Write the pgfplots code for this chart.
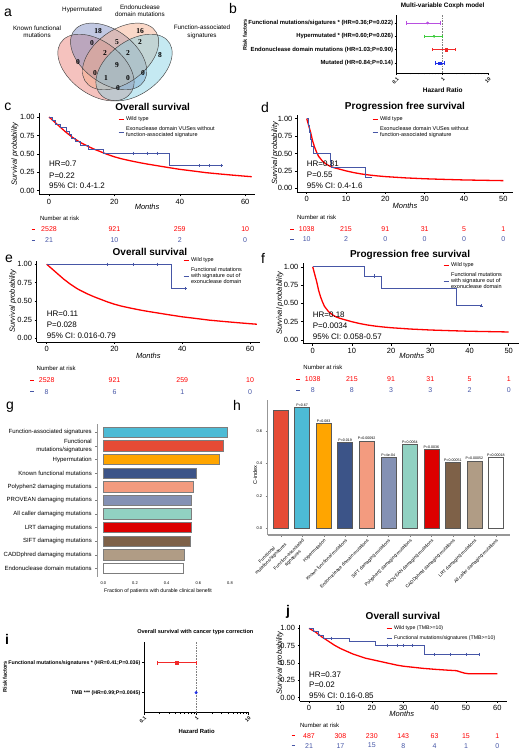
\documentclass[border=0pt]{standalone}
\usepackage{fontspec}
\setmainfont{Liberation Sans}
\newfontfamily\vennfont{Liberation Serif}
\usepackage{pgfplots}
\pgfplotsset{compat=1.18}
\newcommand\fs[1]{\fontsize{#1}{\fpeval{1.18*#1}}\selectfont}
\definecolor{kmred}{RGB}{255,0,0}
\definecolor{kmblue}{RGB}{70,86,166}
\definecolor{npgred}{HTML}{E64B35}
\definecolor{npgcyan}{HTML}{4DBBD5}
\definecolor{npgorange}{HTML}{FFA500}
\definecolor{npgnavy}{HTML}{3C5488}
\definecolor{npgsalmon}{HTML}{F39B7F}
\definecolor{npglav}{HTML}{8491B4}
\definecolor{npgmint}{HTML}{91D1C2}
\definecolor{npgred2}{HTML}{DC0000}
\definecolor{npgbrown}{HTML}{7E6148}
\definecolor{npgtan}{HTML}{B09C85}
\definecolor{barline}{RGB}{125,125,125}
\definecolor{fpurple}{HTML}{B84FE0}
\definecolor{fgreen}{HTML}{3DCB3D}
\definecolor{fred}{HTML}{F22A2A}
\definecolor{fblue}{HTML}{1F2FE8}
\definecolor{vred}{HTML}{E8776E}
\definecolor{vblue}{HTML}{7586BE}
\definecolor{vpeach}{HTML}{F4A985}
\definecolor{vcyan}{HTML}{7ECFE2}
\pgfplotsset{
  /pgf/number format/assume math mode=true,
  every axis title shift=0pt,
  km/.style={
    scale only axis, axis lines*=left, tick align=outside,
    major tick length=2pt, axis line style={line width=0.5pt},
    every tick/.style={black, line width=0.5pt},
    ymin=-0.05, ymax=1.05, ytick={0,0.25,0.5,0.75,1},
    yticklabels={0.00,0.25,0.50,0.75,1.00},
    tick label style={font=\fs{7.5}},
    xticklabel style={yshift=1pt}, yticklabel style={xshift=1pt},
    xlabel={Months}, ylabel={Survival probability},
    xlabel style={font=\fs{7.5}\itshape, anchor=center},
    ylabel style={font=\fs{7.5}\itshape, anchor=center},
    title style={font=\bfseries\fs{10}, anchor=center, yshift=0pt},
    clip=false,
    legend style={draw=none, fill=none, font=\fs{5.5}, inner sep=0pt, anchor=north west,
      cells={anchor=west, align=left}, row sep=0.3pt},
    legend image code/.code={\draw[##1, line width=0.9pt] (0pt,0pt) -- (5pt,0pt);},
  },
  forest/.style={
    scale only axis, xmin=0.1, xmax=10, axis lines*=left,
    axis line style={line width=0.9pt},
    xtick={0.1,1,10}, xticklabels={0.1,1,10},
    minor xtick={0.2,0.3,0.4,0.5,0.6,0.7,0.8,0.9,2,3,4,5,6,7,8,9},
    xticklabel style={rotate=45, anchor=north east, font=\bfseries\fs{5}, inner sep=1pt},
    yticklabel style={font=\bfseries\fs{5.9}, inner sep=1.5pt},
    tick align=outside, major tick length=2pt, minor tick length=1.3pt,
    every tick/.style={black, line width=0.6pt},
    title style={font=\bfseries\fs{6.4}, anchor=center, yshift=0pt},
    xlabel style={font=\bfseries\fs{6.5}, anchor=center},
    ylabel style={font=\bfseries\fs{5.5}, anchor=center},
    clip=false,
  },
}
\begin{document}
\begin{tikzpicture}
\path[use as bounding box] (0pt,0pt) rectangle (521pt,-750pt);

% ---------------- panel letters
\node[font=\fs{14}] at (8pt,-13pt) {a};
\node[font=\fs{14}] at (233pt,-8pt) {b};
\node[font=\fs{14}] at (8pt,-107pt) {c};
\node[font=\fs{14}] at (265pt,-107pt) {d};
\node[font=\fs{14}] at (9pt,-259pt) {e};
\node[font=\fs{14}] at (263pt,-258pt) {f};
\node[font=\fs{14}] at (10pt,-407pt) {g};
\node[font=\fs{14}] at (237pt,-405pt) {h};
\node[font=\bfseries\fs{14}] at (7pt,-639pt) {i};
\node[font=\bfseries\fs{14}] at (288pt,-612pt) {j};

% ---------------- panel a : Venn
\begin{scope}
\pgfsetfillopacity{0.45}
\pgfsetfillcolor{vred}
\pgfpathellipse{\pgfpoint{95.95pt}{-67.55pt}}{\pgfpoint{32.33pt}{-28.26pt}}{\pgfpoint{20.21pt}{17.66pt}}\pgfusepath{fill}
\pgfsetfillcolor{vblue}
\pgfpathellipse{\pgfpoint{108.65pt}{-56.45pt}}{\pgfpoint{32.33pt}{-28.26pt}}{\pgfpoint{20.21pt}{17.66pt}}\pgfusepath{fill}
\pgfsetfillcolor{vpeach}
\pgfpathellipse{\pgfpoint{120.59pt}{-56.45pt}}{\pgfpoint{32.33pt}{28.26pt}}{\pgfpoint{-20.21pt}{17.66pt}}\pgfusepath{fill}
\pgfsetfillcolor{vcyan}
\pgfpathellipse{\pgfpoint{134.05pt}{-67.55pt}}{\pgfpoint{32.33pt}{28.26pt}}{\pgfpoint{-20.21pt}{17.66pt}}\pgfusepath{fill}
\end{scope}
\begin{scope}
\pgfsetlinewidth{0.45pt}\pgfsetstrokecolor{black!75}
\pgfpathellipse{\pgfpoint{95.95pt}{-67.55pt}}{\pgfpoint{32.33pt}{-28.26pt}}{\pgfpoint{20.21pt}{17.66pt}}\pgfusepath{stroke}
\pgfpathellipse{\pgfpoint{108.65pt}{-56.45pt}}{\pgfpoint{32.33pt}{-28.26pt}}{\pgfpoint{20.21pt}{17.66pt}}\pgfusepath{stroke}
\pgfpathellipse{\pgfpoint{120.59pt}{-56.45pt}}{\pgfpoint{32.33pt}{28.26pt}}{\pgfpoint{-20.21pt}{17.66pt}}\pgfusepath{stroke}
\pgfpathellipse{\pgfpoint{134.05pt}{-67.55pt}}{\pgfpoint{32.33pt}{28.26pt}}{\pgfpoint{-20.21pt}{17.66pt}}\pgfusepath{stroke}
\end{scope}
\begin{scope}[every node/.style={font=\vennfont\bfseries\fs{7.5}, inner sep=0pt}]
\node at (98pt,-31pt) {18};
\node at (140pt,-31pt) {16};
\node at (78pt,-62pt) {0};
\node at (160pt,-55pt) {8};
\node at (92pt,-43pt) {0};
\node at (117pt,-42pt) {5};
\node at (140pt,-42pt) {2};
\node at (105pt,-53pt) {2};
\node at (128pt,-53pt) {2};
\node at (117pt,-65pt) {9};
\node at (95pt,-73pt) {0};
\node at (106pt,-78pt) {1};
\node at (128pt,-78pt) {0};
\node at (143pt,-73pt) {0};
\node at (118pt,-88pt) {0};
\end{scope}
\begin{scope}[every node/.style={font=\fs{6.3}, align=center, inner sep=0pt}]
\node at (82pt,-10pt) {Hypermutated};
\node at (140pt,-11pt) {Endonuclease\\domain mutations};
\node at (37pt,-32pt) {Known functional\\mutations};
\node at (202pt,-32pt) {Function-associated\\signatures};
\end{scope}

% ---------------- panel b : forest
\begin{axis}[xmode=log, forest, at={(396.7pt,-73pt)}, anchor=south west, width=92pt, height=58pt,
  ymin=0.25, ymax=4.6, ytick={1,2,3,4},
  yticklabels={{Mutated (HR=0.84;P=0.14)},{Endonuclease domain mutations (HR=1.03;P=0.90)},{Hypermutated * (HR=0.60;P=0.026)},{Functional mutations/sigatures * (HR=0.36;P=0.022)}},
  title={Multi-variable Coxph model}, title style={at={(axis description cs:0.5,1.165)}},
  xlabel={Hazard Ratio}, xlabel style={at={(axis description cs:0.5,-0.293)}},
  ylabel={Risk factors}, ylabel style={at={(axis description cs:-1.649,0.655)}}]
\addplot[gray, densely dotted, line width=0.6pt] coordinates {(1,0.25) (1,4.6)};
\addplot[fpurple, mark=|, mark size=1.6pt, line width=0.7pt] coordinates {(0.165,4) (0.87,4)};
\addplot[fpurple, only marks, mark=*, mark size=1.2pt] coordinates {(0.47,4)};
\addplot[fgreen, mark=|, mark size=1.6pt, line width=0.7pt] coordinates {(0.40,3) (0.98,3)};
\addplot[fgreen, only marks, mark=*, mark size=1.2pt] coordinates {(0.65,3)};
\addplot[fred, mark=|, mark size=1.6pt, line width=0.7pt] coordinates {(0.61,2) (1.85,2)};
\addplot[fred, only marks, mark=square*, mark size=1.3pt] coordinates {(1.18,2)};
\addplot[fblue, mark=|, mark size=1.6pt, line width=0.7pt] coordinates {(0.70,1) (1.07,1)};
\addplot[fblue, only marks, mark=square*, mark size=1.3pt] coordinates {(0.87,1)};
\end{axis}

% ---------------- panel c : OS, VUS
\begin{axis}[km, at={(39.2pt,-194.4pt)}, anchor=south west, width=215.8pt, height=81.1pt,
  xmin=-3, xmax=63, xtick={0,20,40,60},
  title={Overall survival}, title style={at={(axis description cs:0.526,1.081)}},
  xlabel style={at={(axis description cs:0.5,-0.155)}},
  ylabel style={at={(axis description cs:-0.112,0.5)}},
  legend style={at={(axis description cs:0.365,0.99)}}]
\addplot[kmred, line width=1.3pt] coordinates {(0,1) (1,0.96) (2,0.92) (3,0.88) (4,0.84) (5,0.80) (6,0.765) (7,0.73) (8,0.70) (9,0.67) (10,0.645) (12,0.60) (14,0.56) (16,0.525) (18,0.49) (20,0.46) (22,0.435) (25,0.405) (28,0.378) (30,0.362) (33,0.34) (36,0.318) (40,0.29) (44,0.268) (48,0.245) (52,0.228) (56,0.212) (60,0.197) (62,0.19)};
\addlegendentry{Wild type}
\addplot[kmblue, line width=0.8pt, const plot] coordinates {(0,1) (1,0.952) (2,0.905) (3.5,0.857) (5.2,0.81) (6.3,0.762) (7,0.714) (8,0.667) (9.5,0.619) (12,0.56) (16.6,0.51) (36.8,0.34) (52.8,0.34)};
\addlegendentry{Exonuclease domain VUSes without\\function-associated signature}
\addplot[kmblue, only marks, mark=+, mark size=1.6pt, forget plot] coordinates {(25.8,0.51) (30,0.51) (33,0.51) (46,0.34) (49,0.34) (52.8,0.34)};
\node[anchor=west, font=\fs{8}, inner sep=0pt] at (axis cs:0,0.362) {HR=0.7};
\node[anchor=west, font=\fs{8}, inner sep=0pt] at (axis cs:0,0.204) {P=0.22};
\node[anchor=west, font=\fs{8}, inner sep=0pt] at (axis cs:0,0.064) {95\% CI: 0.4-1.2};
\node[anchor=west, font=\fs{6}, inner sep=0pt] at (axis cs:-2.8,-0.37) {Number at risk};
\node[inner sep=0pt] at (axis cs:-4.8,-0.52) {\textcolor{kmred}{\rule{3.5pt}{1pt}}};
\node[inner sep=0pt] at (axis cs:-4.8,-0.67) {\textcolor{kmblue}{\rule{3.5pt}{1pt}}};
\begin{scope}[every node/.style={font=\fs{7}, inner sep=0pt, text=kmred}]
\node at (axis cs:0,-0.52) {2528}; \node at (axis cs:20,-0.52) {921};
\node at (axis cs:40,-0.52) {259}; \node at (axis cs:60,-0.52) {10};
\end{scope}
\begin{scope}[every node/.style={font=\fs{7}, inner sep=0pt, text=kmblue}]
\node at (axis cs:0,-0.67) {21}; \node at (axis cs:20,-0.67) {10};
\node at (axis cs:40,-0.67) {2}; \node at (axis cs:60,-0.67) {0};
\end{scope}
\end{axis}

% ---------------- panel d : PFS, VUS
\begin{axis}[km, at={(296.9pt,-191.8pt)}, anchor=south west, width=216.2pt, height=76.7pt,
  xmin=-2.5, xmax=52.5, xtick={0,10,20,30,40,50},
  title={Progression free survival}, title style={at={(axis description cs:0.5,1.11)}},
  xlabel style={at={(axis description cs:0.5,-0.185)}},
  ylabel style={at={(axis description cs:-0.101,0.5)}},
  legend style={at={(axis description cs:0.347,1.008)}}]
\addplot[kmred, line width=1.3pt] coordinates {(0,1) (0.5,0.9) (1,0.8) (1.5,0.68) (2,0.59) (2.5,0.52) (3,0.46) (4,0.39) (5,0.345) (6,0.315) (7,0.295) (8,0.28) (10,0.25) (12,0.225) (14,0.205) (16,0.19) (18,0.178) (20,0.168) (25,0.15) (30,0.137) (35,0.128) (40,0.12) (45,0.115) (50,0.11)};
\addlegendentry{Wild type}
\addplot[kmblue, line width=0.8pt, const plot] coordinates {(0,1) (0.5,0.9) (0.8,0.8) (1.0,0.7) (1.3,0.6) (1.7,0.5) (5.9,0.4) (6.3,0.3) (14.8,0.15) (16.5,0.15)};
\addlegendentry{Exonuclease domain VUSes without\\function-associated signature}
\node[anchor=west, font=\fs{8}, inner sep=0pt] at (axis cs:0,0.359) {HR=0.81};
\node[anchor=west, font=\fs{8}, inner sep=0pt] at (axis cs:0,0.2) {P=0.55};
\node[anchor=west, font=\fs{8}, inner sep=0pt] at (axis cs:0,0.04) {95\% CI: 0.4-1.6};
\node[anchor=west, font=\fs{6}, inner sep=0pt] at (axis cs:-2.5,-0.416) {Number at risk};
\node[inner sep=0pt] at (axis cs:-3.8,-0.584) {\textcolor{kmred}{\rule{3.5pt}{1pt}}};
\node[inner sep=0pt] at (axis cs:-3.8,-0.73) {\textcolor{kmblue}{\rule{3.5pt}{1pt}}};
\begin{scope}[every node/.style={font=\fs{7}, inner sep=0pt, text=kmred}]
\node at (axis cs:0,-0.584) {1038}; \node at (axis cs:10,-0.584) {215};
\node at (axis cs:20,-0.584) {91}; \node at (axis cs:30,-0.584) {31};
\node at (axis cs:40,-0.584) {5}; \node at (axis cs:50,-0.584) {1};
\end{scope}
\begin{scope}[every node/.style={font=\fs{7}, inner sep=0pt, text=kmblue}]
\node at (axis cs:0,-0.73) {10}; \node at (axis cs:10,-0.73) {2};
\node at (axis cs:20,-0.73) {0}; \node at (axis cs:30,-0.73) {0};
\node at (axis cs:40,-0.73) {0}; \node at (axis cs:50,-0.73) {0};
\end{scope}
\end{axis}

% ---------------- panel e : OS, functional out of exo
\begin{axis}[km, at={(36.5pt,-342pt)}, anchor=south west, width=223.7pt, height=81.5pt,
  xmin=-3, xmax=63, xtick={0,20,40,60},
  title={Overall survival}, title style={at={(axis description cs:0.507,1.108)}},
  xlabel style={at={(axis description cs:0.5,-0.172)}},
  ylabel style={at={(axis description cs:-0.105,0.5)}},
  legend style={at={(axis description cs:0.655,1.067)}}]
\addplot[kmred, line width=1.3pt] coordinates {(0,1) (1,0.96) (2,0.92) (3,0.88) (4,0.84) (5,0.80) (6,0.765) (7,0.73) (8,0.70) (9,0.67) (10,0.645) (12,0.60) (14,0.56) (16,0.525) (18,0.49) (20,0.46) (22,0.435) (25,0.405) (28,0.378) (30,0.362) (33,0.34) (36,0.318) (40,0.29) (44,0.268) (48,0.245) (52,0.228) (56,0.212) (60,0.197) (62,0.19)};
\addlegendentry{Wild type}
\addplot[kmblue, line width=0.8pt, const plot] coordinates {(0,1) (36.9,0.67) (40.8,0.67)};
\addlegendentry{Functional mutations\\with signature out of\\exonuclease domain}
\addplot[kmblue, only marks, mark=+, mark size=1.6pt, forget plot] coordinates {(18,1) (25.5,1) (32.5,1) (40.8,0.67)};
\node[anchor=west, font=\fs{8}, inner sep=0pt] at (axis cs:0,0.337) {HR=0.11};
\node[anchor=west, font=\fs{8}, inner sep=0pt] at (axis cs:0,0.189) {P=0.028};
\node[anchor=west, font=\fs{8}, inner sep=0pt] at (axis cs:0,0.04) {95\% CI: 0.016-0.79};
\node[anchor=west, font=\fs{6}, inner sep=0pt] at (axis cs:-3,-0.405) {Number at risk};
\node[inner sep=0pt] at (axis cs:-4.4,-0.563) {\textcolor{kmred}{\rule{3.5pt}{1pt}}};
\node[inner sep=0pt] at (axis cs:-4.4,-0.72) {\textcolor{kmblue}{\rule{3.5pt}{1pt}}};
\begin{scope}[every node/.style={font=\fs{7}, inner sep=0pt, text=kmred}]
\node at (axis cs:0,-0.563) {2528}; \node at (axis cs:20,-0.563) {921};
\node at (axis cs:40,-0.563) {259}; \node at (axis cs:60,-0.563) {10};
\end{scope}
\begin{scope}[every node/.style={font=\fs{7}, inner sep=0pt, text=kmblue}]
\node at (axis cs:0,-0.72) {8}; \node at (axis cs:20,-0.72) {6};
\node at (axis cs:40,-0.72) {1}; \node at (axis cs:60,-0.72) {0};
\end{scope}
\end{axis}

% ---------------- panel f : PFS, functional out of exo
\begin{axis}[km, at={(302.9pt,-343.7pt)}, anchor=south west, width=215.6pt, height=80.6pt,
  xmin=-2.5, xmax=52.5, xtick={0,10,20,30,40,50},
  title={Progression free survival}, title style={at={(axis description cs:0.497,1.10)}},
  xlabel style={at={(axis description cs:0.505,-0.153)}},
  ylabel style={at={(axis description cs:-0.106,0.5)}},
  legend style={at={(axis description cs:0.65,1.038)}}]
\addplot[kmred, line width=1.3pt] coordinates {(0,1) (0.5,0.9) (1,0.8) (1.5,0.68) (2,0.59) (2.5,0.52) (3,0.46) (4,0.39) (5,0.345) (6,0.315) (7,0.295) (8,0.28) (10,0.25) (12,0.225) (14,0.205) (16,0.19) (18,0.178) (20,0.168) (25,0.15) (30,0.137) (35,0.128) (40,0.12) (45,0.115) (50,0.11)};
\addlegendentry{Wild type}
\addplot[kmblue, line width=0.8pt, const plot] coordinates {(0,1) (13.3,0.875) (17.6,0.70) (36.7,0.467) (43.1,0.467)};
\addlegendentry{Functional mutations\\with signature out of\\exonuclease domain}
\addplot[kmblue, only marks, mark=+, mark size=1.6pt, forget plot] coordinates {(15.7,0.875) (43.1,0.467)};
\node[anchor=west, font=\fs{8}, inner sep=0pt] at (axis cs:0,0.341) {HR=0.18};
\node[anchor=west, font=\fs{8}, inner sep=0pt] at (axis cs:0,0.191) {P=0.0034};
\node[anchor=west, font=\fs{8}, inner sep=0pt] at (axis cs:0,0.045) {95\% CI: 0.058-0.57};
\node[anchor=west, font=\fs{6}, inner sep=0pt] at (axis cs:-2.4,-0.372) {Number at risk};
\node[inner sep=0pt] at (axis cs:-3.7,-0.532) {\textcolor{kmred}{\rule{3.5pt}{1pt}}};
\node[inner sep=0pt] at (axis cs:-3.7,-0.682) {\textcolor{kmblue}{\rule{3.5pt}{1pt}}};
\begin{scope}[every node/.style={font=\fs{7}, inner sep=0pt, text=kmred}]
\node at (axis cs:0,-0.532) {1038}; \node at (axis cs:10,-0.532) {215};
\node at (axis cs:20,-0.532) {91}; \node at (axis cs:30,-0.532) {31};
\node at (axis cs:40,-0.532) {5}; \node at (axis cs:50,-0.532) {1};
\end{scope}
\begin{scope}[every node/.style={font=\fs{7}, inner sep=0pt, text=kmblue}]
\node at (axis cs:0,-0.682) {8}; \node at (axis cs:10,-0.682) {8};
\node at (axis cs:20,-0.682) {3}; \node at (axis cs:30,-0.682) {3};
\node at (axis cs:40,-0.682) {2}; \node at (axis cs:50,-0.682) {0};
\end{scope}
\end{axis}

% ---------------- panel g : horizontal bars
\begin{axis}[scale only axis, at={(97.3pt,-576.5pt)}, anchor=south west, width=139pt, height=152.3pt,
  xmin=-0.0379, xmax=0.84, ymin=-0.6, ymax=10.6, clip=false,
  axis lines*=left, x axis line style={draw=none},
  y axis line style={draw=barline!80, line width=1.4pt},
  xtick={0,0.2,0.4,0.6,0.8}, xticklabels={0.0,0.2,0.4,0.6,0.8},
  xticklabel style={font=\fs{4}}, major x tick style={draw=none},
  major y tick style={barline, line width=0.5pt},
  ytick={0,1,2,3,4,5,6,7,8,9,10},
  yticklabels={{Endonuclease domain mutations},{CADDphred damaging mutations},{SIFT damaging mutations},{LRT damaging mutations},{All caller damaging mutations},{PROVEAN damaging mutations},{Polyphen2 damaging mutations},{Known functional mutations},{Hypermutation},{Functional\\mutations/signatures},{Function-associated signatures}},
  yticklabel style={font=\fs{6}, align=right},
  major tick length=2pt, tick align=outside,
  xbar, bar width=10.5pt, bar shift=0pt,
  xlabel={Fraction of patients with durable clinical benefit},
  xlabel style={font=\fs{5.2}, at={(axis description cs:0.437,-0.093)}, anchor=center}]
\addplot[fill=npgcyan, draw=barline, line width=0.8pt] coordinates {(0.786,10)};
\addplot[fill=npgred, draw=barline, line width=0.8pt] coordinates {(0.758,9)};
\addplot[fill=npgorange, draw=barline, line width=0.8pt] coordinates {(0.731,8)};
\addplot[fill=npgnavy, draw=barline, line width=0.8pt] coordinates {(0.590,7)};
\addplot[fill=npgsalmon, draw=barline, line width=0.8pt] coordinates {(0.568,6)};
\addplot[fill=npglav, draw=barline, line width=0.8pt] coordinates {(0.558,5)};
\addplot[fill=npgmint, draw=barline, line width=0.8pt] coordinates {(0.554,4)};
\addplot[fill=npgred2, draw=barline, line width=0.8pt] coordinates {(0.554,3)};
\addplot[fill=npgbrown, draw=barline, line width=0.8pt] coordinates {(0.552,2)};
\addplot[fill=npgtan, draw=barline, line width=0.8pt] coordinates {(0.512,1)};
\addplot[fill=white, draw=barline, line width=0.8pt] coordinates {(0.505,0)};
\end{axis}

% ---------------- panel h : C-index bars
\begin{axis}[scale only axis, at={(267.7pt,-535pt)}, anchor=south west, width=242.2pt, height=134.6pt,
  xmin=-0.6, xmax=10.65, ymin=-0.041, ymax=0.79, clip=false,
  axis lines*=left, axis line style={draw=barline!80, line width=1.1pt},
  ybar, bar width=15pt, bar shift=0pt,
  xtick={0,1,2,3,4,5,6,7,8,9,10},
  xticklabels={{Functional\\mutations/signatures},{Function-associated\\signatures},{Hypermutation},{Known functional mutations},{Endonuclease domain mutations},{SIFT damaging mutations},{Polyphen2 damaging mutations},{PROVEAN damaging mutations},{CADDphred damaging mutations},{LRT damaging mutations},{All caller damaging mutations}},
  xticklabel style={rotate=45, anchor=north east, font=\fs{4.6}, align=center, inner sep=1pt},
  ytick={0,0.2,0.4,0.6}, yticklabels={0.0,0.2,0.4,0.6}, yticklabel style={font=\fs{4}},
  tick align=outside, major tick length=2pt, tick style={barline},
  ylabel={C-index}, ylabel style={font=\fs{5.5}, at={(axis description cs:-0.052,0.446)}, anchor=center},
  every node near coord/.append style={font=\fs{3.6}, inner sep=1pt}]
\addplot[fill=npgred, draw=black!65, line width=0.5pt] coordinates {(0,0.730)};
\addplot[fill=npgcyan, draw=black!65, line width=0.5pt, nodes near coords={P=0.67}] coordinates {(1,0.747)};
\addplot[fill=npgorange, draw=black!65, line width=0.5pt, nodes near coords={P=0.083}] coordinates {(2,0.648)};
\addplot[fill=npgnavy, draw=black!65, line width=0.5pt, nodes near coords={P=0.019}] coordinates {(3,0.531)};
\addplot[fill=npgsalmon, draw=black!65, line width=0.5pt, nodes near coords={P=0.00092}] coordinates {(4,0.539)};
\addplot[fill=npglav, draw=black!65, line width=0.5pt, nodes near coords={P=4e-04}] coordinates {(5,0.436)};
\addplot[fill=npgmint, draw=black!65, line width=0.5pt, nodes near coords={P=0.0064}] coordinates {(6,0.518)};
\addplot[fill=npgred2, draw=black!65, line width=0.5pt, nodes near coords={P=0.0036}] coordinates {(7,0.488)};
\addplot[fill=npgbrown, draw=black!65, line width=0.5pt, nodes near coords={P=0.00051}] coordinates {(8,0.407)};
\addplot[fill=npgtan, draw=black!65, line width=0.5pt, nodes near coords={P=0.00052}] coordinates {(9,0.417)};
\addplot[fill=white, draw=black!65, line width=0.5pt, nodes near coords={P=0.00018}] coordinates {(10,0.438)};
\end{axis}

% ---------------- panel i : forest
\begin{axis}[xmode=log, forest, at={(144pt,-712.7pt)}, anchor=south west, width=104.7pt, height=71pt,
  ymin=0.333, ymax=2.7, ytick={1,2},
  yticklabels={{TMB *** (HR=0.99;P=0.0045)},{Functional mutations/signatures * (HR=0.41;P=0.036)}},
  yticklabel style={font=\bfseries\fs{5.25}},
  title={Overall survival with cancer type correction}, title style={font=\bfseries\fs{5.6}, at={(axis description cs:0.49,1.141)}},
  xlabel={Hazard Ratio}, xlabel style={font=\bfseries\fs{5.9}, at={(axis description cs:0.503,-0.268)}},
  ylabel={Risk factors}, ylabel style={at={(axis description cs:-1.328,0.507)}}]
\addplot[gray, densely dotted, line width=0.6pt] coordinates {(1,0.333) (1,2.7)};
\addplot[fred, mark=|, mark size=1.8pt, line width=0.7pt] coordinates {(0.18,2) (0.99,2)};
\addplot[fred, only marks, mark=square*, mark size=1.4pt] coordinates {(0.42,2)};
\addplot[fblue, only marks, mark=*, mark size=1.3pt] coordinates {(0.99,1)};
\end{axis}

% ---------------- panel j : OS TMB>=10
\begin{axis}[km, at={(299.6pt,-701.2pt)}, anchor=south west, width=207.2pt, height=76.3pt,
  xmin=-3, xmax=63, xtick={0,10,20,30,40,50,60},
  title={Overall survival}, title style={at={(axis description cs:0.499,1.117)}},
  xlabel style={at={(axis description cs:0.493,-0.159)}},
  ylabel style={at={(axis description cs:-0.095,0.5)}},
  legend style={at={(axis description cs:0.417,1.012)}, font=\fs{5.2}}]
\addplot[kmred, line width=1.3pt] coordinates {(0,1) (2,0.95) (4,0.88) (6,0.82) (8,0.76) (10,0.71) (12,0.67) (14,0.63) (16,0.6) (18,0.57) (20,0.55) (22,0.53) (25,0.5) (28,0.47) (30,0.455) (33,0.44) (36,0.425) (40,0.41) (44,0.398) (47,0.39) (48,0.375) (49.5,0.355) (51,0.345) (60,0.345)};
\addlegendentry{Wild type (TMB>=10)}
\addplot[kmblue, line width=0.8pt, const plot] coordinates {(0,1) (1.5,0.952) (3,0.905) (4.5,0.857) (12.8,0.81) (21,0.757) (36.7,0.625) (54.1,0.625)};
\addlegendentry{Functional mutations/signatures (TMB>=10)}
\addplot[kmblue, only marks, mark=+, mark size=1.6pt, forget plot] coordinates {(7,0.857) (25,0.757) (28,0.757) (30,0.757) (33,0.757) (40,0.625) (45,0.625) (50,0.625) (54.1,0.625)};
\node[anchor=west, font=\fs{8}, inner sep=0pt] at (axis cs:0,0.327) {HR=0.37};
\node[anchor=west, font=\fs{8}, inner sep=0pt] at (axis cs:0,0.183) {P=0.02};
\node[anchor=west, font=\fs{8}, inner sep=0pt] at (axis cs:0,0.035) {95\% CI: 0.16-0.85};
\node[anchor=west, font=\fs{6}, inner sep=0pt] at (axis cs:-2.9,-0.393) {Number at risk};
\node[inner sep=0pt] at (axis cs:-5,-0.548) {\textcolor{kmred}{\rule{3.5pt}{1pt}}};
\node[inner sep=0pt] at (axis cs:-5,-0.69) {\textcolor{kmblue}{\rule{3.5pt}{1pt}}};
\begin{scope}[every node/.style={font=\fs{7}, inner sep=0pt, text=kmred}]
\node at (axis cs:0,-0.548) {487}; \node at (axis cs:10,-0.548) {308};
\node at (axis cs:20,-0.548) {230}; \node at (axis cs:30,-0.548) {143};
\node at (axis cs:40,-0.548) {63}; \node at (axis cs:50,-0.548) {15};
\node at (axis cs:60,-0.548) {1};
\end{scope}
\begin{scope}[every node/.style={font=\fs{7}, inner sep=0pt, text=kmblue}]
\node at (axis cs:0,-0.69) {21}; \node at (axis cs:10,-0.69) {17};
\node at (axis cs:20,-0.69) {15}; \node at (axis cs:30,-0.69) {8};
\node at (axis cs:40,-0.69) {4}; \node at (axis cs:50,-0.69) {1};
\node at (axis cs:60,-0.69) {0};
\end{scope}
\end{axis}
\end{tikzpicture}
\end{document}
